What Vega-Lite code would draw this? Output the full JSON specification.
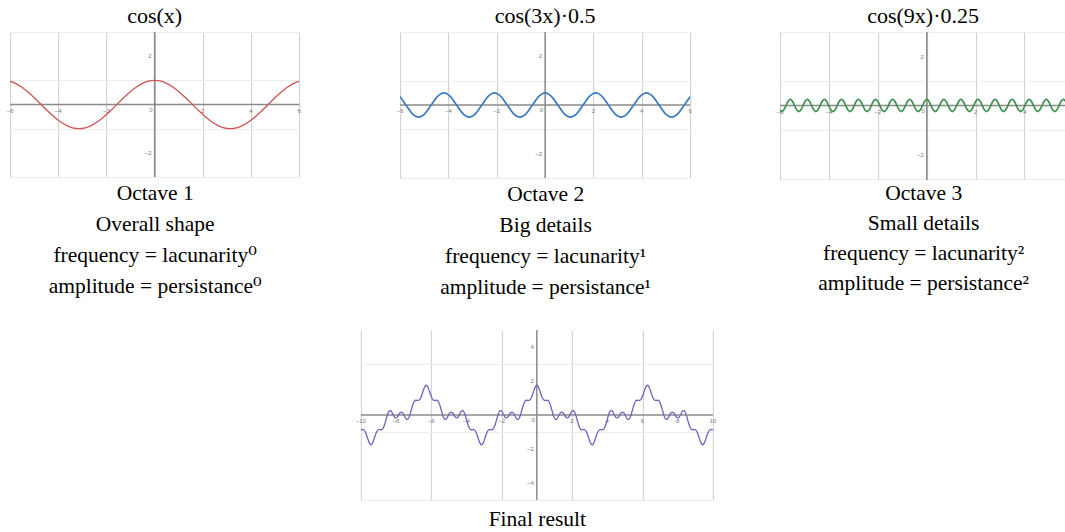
{
"$schema":"https://vega.github.io/schema/vega-lite/v6.json",
"padding":{"left":6,"top":5,"right":0,"bottom":0},
"background":"white",
"config":{
 "view":{"stroke":null},
 "font":"Liberation Serif",
 "title":{"font":"Liberation Serif, DejaVu Serif","fontSize":22,"fontWeight":"normal","color":"#000","offset":3,"anchor":"middle"},
 "axis":{"labels":false,"ticks":false,"domain":false,"grid":true,"gridWidth":1,"titleFont":"Liberation Serif, DejaVu Serif","titleFontSize":21.5,"titleFontWeight":"normal","titleColor":"#000","titleLineHeight":31.3,"titlePadding":5},
 "text":{"color":"#777777","font":"Liberation Sans","fontSize":6},
 "style":{
  "xl":{"dy":6},
  "yl":{"dx":-3,"align":"right","baseline":"middle"},
  "ol":{"dx":-2,"dy":2,"align":"right","baseline":"top"}
 }
},
"datasets":{
 "a":[
{"x":-6.283,"c1":1,"c3":0.5},{"x":-6.021,"c1":0.966,"c3":0.354},{"x":-5.76,"c1":0.866,"c3":0},{"x":-5.498,"c1":0.707,"c3":-0.354},{"x":-5.236,"c1":0.5,"c3":-0.5},{"x":-4.974,"c1":0.259,"c3":-0.354},{"x":-4.712,"c1":0,"c3":0},{"x":-4.451,"c1":-0.259,"c3":0.354},{"x":-4.189,"c1":-0.5,"c3":0.5},{"x":-3.927,"c1":-0.707,"c3":0.354},{"x":-3.665,"c1":-0.866,"c3":0},{"x":-3.403,"c1":-0.966,"c3":-0.354},{"x":-3.142,"c1":-1,"c3":-0.5},{"x":-2.88,"c1":-0.966,"c3":-0.354},{"x":-2.618,"c1":-0.866,"c3":0},{"x":-2.356,"c1":-0.707,"c3":0.354},{"x":-2.094,"c1":-0.5,"c3":0.5},{"x":-1.833,"c1":-0.259,"c3":0.354},{"x":-1.571,"c1":0,"c3":0},{"x":-1.309,"c1":0.259,"c3":-0.354},{"x":-1.047,"c1":0.5,"c3":-0.5},{"x":-0.785,"c1":0.707,"c3":-0.354},{"x":-0.524,"c1":0.866,"c3":0},{"x":-0.262,"c1":0.966,"c3":0.354},
{"x":0,"c1":1,"c3":0.5},
{"x":0.262,"c1":0.966,"c3":0.354},{"x":0.524,"c1":0.866,"c3":0},{"x":0.785,"c1":0.707,"c3":-0.354},{"x":1.047,"c1":0.5,"c3":-0.5},{"x":1.309,"c1":0.259,"c3":-0.354},{"x":1.571,"c1":0,"c3":0},{"x":1.833,"c1":-0.259,"c3":0.354},{"x":2.094,"c1":-0.5,"c3":0.5},{"x":2.356,"c1":-0.707,"c3":0.354},{"x":2.618,"c1":-0.866,"c3":0},{"x":2.88,"c1":-0.966,"c3":-0.354},{"x":3.142,"c1":-1,"c3":-0.5},{"x":3.403,"c1":-0.966,"c3":-0.354},{"x":3.665,"c1":-0.866,"c3":0},{"x":3.927,"c1":-0.707,"c3":0.354},{"x":4.189,"c1":-0.5,"c3":0.5},{"x":4.451,"c1":-0.259,"c3":0.354},{"x":4.712,"c1":0,"c3":0},{"x":4.974,"c1":0.259,"c3":-0.354},{"x":5.236,"c1":0.5,"c3":-0.5},{"x":5.498,"c1":0.707,"c3":-0.354},{"x":5.76,"c1":0.866,"c3":0},{"x":6.021,"c1":0.966,"c3":0.354},{"x":6.283,"c1":1,"c3":0.5}
 ],
 "b":[
{"x":0,"c9":0.25,"f":1.75},{"x":0.087,"c9":0.177,"f":1.656},{"x":0.175,"c9":0,"f":1.418},{"x":0.262,"c9":-0.177,"f":1.143},{"x":0.349,"c9":-0.25,"f":0.94},{"x":0.436,"c9":-0.177,"f":0.859},{"x":0.524,"c9":0,"f":0.866},{"x":0.611,"c9":0.177,"f":0.867},{"x":0.698,"c9":0.25,"f":0.766},{"x":0.785,"c9":0.177,"f":0.53},
{"x":0.873,"c9":0,"f":0.21},{"x":0.96,"c9":-0.177,"f":-0.086},{"x":1.047,"c9":-0.25,"f":-0.25},{"x":1.134,"c9":-0.177,"f":-0.237},{"x":1.222,"c9":0,"f":-0.091},{"x":1.309,"c9":0.177,"f":0.082},{"x":1.396,"c9":0.25,"f":0.174},{"x":1.484,"c9":0.177,"f":0.135},{"x":1.571,"c9":0,"f":0},{"x":1.658,"c9":-0.177,"f":-0.135},
{"x":1.745,"c9":-0.25,"f":-0.174},{"x":1.833,"c9":-0.177,"f":-0.082},{"x":1.92,"c9":0,"f":0.091},{"x":2.007,"c9":0.177,"f":0.237},{"x":2.094,"c9":0.25,"f":0.25},{"x":2.182,"c9":0.177,"f":0.086},{"x":2.269,"c9":0,"f":-0.21},{"x":2.356,"c9":-0.177,"f":-0.53},{"x":2.443,"c9":-0.25,"f":-0.766},{"x":2.531,"c9":-0.177,"f":-0.867},
{"x":2.618,"c9":0,"f":-0.866},{"x":2.705,"c9":0.177,"f":-0.859},{"x":2.793,"c9":0.25,"f":-0.94},{"x":2.88,"c9":0.177,"f":-1.143},{"x":2.967,"c9":0,"f":-1.418},{"x":3.054,"c9":-0.177,"f":-1.656},{"x":3.142,"c9":-0.25,"f":-1.75},{"x":3.229,"c9":-0.177,"f":-1.656},{"x":3.316,"c9":0,"f":-1.418},{"x":3.403,"c9":0.177,"f":-1.143},
{"x":3.491,"c9":0.25,"f":-0.94},{"x":3.578,"c9":0.177,"f":-0.859},{"x":3.665,"c9":0,"f":-0.866},{"x":3.752,"c9":-0.177,"f":-0.867},{"x":3.84,"c9":-0.25,"f":-0.766},{"x":3.927,"c9":-0.177,"f":-0.53},{"x":4.014,"c9":0,"f":-0.21},{"x":4.102,"c9":0.177,"f":0.086},{"x":4.189,"c9":0.25,"f":0.25},{"x":4.276,"c9":0.177,"f":0.237},
{"x":4.363,"c9":0,"f":0.091},{"x":4.451,"c9":-0.177,"f":-0.082},{"x":4.538,"c9":-0.25,"f":-0.174},{"x":4.625,"c9":-0.177,"f":-0.135},{"x":4.712,"c9":0,"f":0},{"x":4.8,"c9":0.177,"f":0.135},{"x":4.887,"c9":0.25,"f":0.174},{"x":4.974,"c9":0.177,"f":0.082},{"x":5.061,"c9":0,"f":-0.091},{"x":5.149,"c9":-0.177,"f":-0.237},
{"x":5.236,"c9":-0.25,"f":-0.25},{"x":5.323,"c9":-0.177,"f":-0.086},{"x":5.411,"c9":0,"f":0.21},{"x":5.498,"c9":0.177,"f":0.53},{"x":5.585,"c9":0.25,"f":0.766},{"x":5.672,"c9":0.177,"f":0.867},{"x":5.76,"c9":0,"f":0.866},{"x":5.847,"c9":-0.177,"f":0.859},{"x":5.934,"c9":-0.25,"f":0.94},{"x":6.021,"c9":-0.177,"f":1.143},
{"x":6.109,"c9":0,"f":1.418},{"x":6.196,"c9":0.177,"f":1.656},{"x":6.283,"c9":0.25,"f":1.75},{"x":6.37,"c9":0.177,"f":1.656},{"x":6.458,"c9":0,"f":1.418},{"x":6.545,"c9":-0.177,"f":1.143},{"x":6.632,"c9":-0.25,"f":0.94},{"x":6.72,"c9":-0.177,"f":0.859},{"x":6.807,"c9":0,"f":0.866},{"x":6.894,"c9":0.177,"f":0.867},
{"x":6.981,"c9":0.25,"f":0.766},{"x":7.069,"c9":0.177,"f":0.53},{"x":7.156,"c9":0,"f":0.21},{"x":7.243,"c9":-0.177,"f":-0.086},{"x":7.33,"c9":-0.25,"f":-0.25},{"x":7.418,"c9":-0.177,"f":-0.237},{"x":7.505,"c9":0,"f":-0.091},{"x":7.592,"c9":0.177,"f":0.082},{"x":7.679,"c9":0.25,"f":0.174},{"x":7.767,"c9":0.177,"f":0.135},
{"x":7.854,"c9":0,"f":0},{"x":7.941,"c9":-0.177,"f":-0.135},{"x":8.029,"c9":-0.25,"f":-0.174},{"x":8.116,"c9":-0.177,"f":-0.082},{"x":8.203,"c9":0,"f":0.091},{"x":8.29,"c9":0.177,"f":0.237},{"x":8.378,"c9":0.25,"f":0.25},{"x":8.465,"c9":0.177,"f":0.086},{"x":8.552,"c9":0,"f":-0.21},{"x":8.639,"c9":-0.177,"f":-0.53},
{"x":8.727,"c9":-0.25,"f":-0.766},{"x":8.814,"c9":-0.177,"f":-0.867},{"x":8.901,"c9":0,"f":-0.866},{"x":8.988,"c9":0.177,"f":-0.859},{"x":9.076,"c9":0.25,"f":-0.94},{"x":9.163,"c9":0.177,"f":-1.143},{"x":9.25,"c9":0,"f":-1.418},{"x":9.338,"c9":-0.177,"f":-1.656},{"x":9.425,"c9":-0.25,"f":-1.75},{"x":9.512,"c9":-0.177,"f":-1.656},
{"x":9.599,"c9":0,"f":-1.418},{"x":9.687,"c9":0.177,"f":-1.143},{"x":9.774,"c9":0.25,"f":-0.94},{"x":9.861,"c9":0.177,"f":-0.859},{"x":9.948,"c9":0,"f":-0.866},{"x":10.036,"c9":-0.177,"f":-0.867},
{"x":-0.087,"c9":0.177,"f":1.656},{"x":-0.175,"c9":0,"f":1.418},{"x":-0.262,"c9":-0.177,"f":1.143},{"x":-0.349,"c9":-0.25,"f":0.94},{"x":-0.436,"c9":-0.177,"f":0.859},{"x":-0.524,"c9":0,"f":0.866},{"x":-0.611,"c9":0.177,"f":0.867},{"x":-0.698,"c9":0.25,"f":0.766},{"x":-0.785,"c9":0.177,"f":0.53},
{"x":-0.873,"c9":0,"f":0.21},{"x":-0.96,"c9":-0.177,"f":-0.086},{"x":-1.047,"c9":-0.25,"f":-0.25},{"x":-1.134,"c9":-0.177,"f":-0.237},{"x":-1.222,"c9":0,"f":-0.091},{"x":-1.309,"c9":0.177,"f":0.082},{"x":-1.396,"c9":0.25,"f":0.174},{"x":-1.484,"c9":0.177,"f":0.135},{"x":-1.571,"c9":0,"f":0},{"x":-1.658,"c9":-0.177,"f":-0.135},
{"x":-1.745,"c9":-0.25,"f":-0.174},{"x":-1.833,"c9":-0.177,"f":-0.082},{"x":-1.92,"c9":0,"f":0.091},{"x":-2.007,"c9":0.177,"f":0.237},{"x":-2.094,"c9":0.25,"f":0.25},{"x":-2.182,"c9":0.177,"f":0.086},{"x":-2.269,"c9":0,"f":-0.21},{"x":-2.356,"c9":-0.177,"f":-0.53},{"x":-2.443,"c9":-0.25,"f":-0.766},{"x":-2.531,"c9":-0.177,"f":-0.867},
{"x":-2.618,"c9":0,"f":-0.866},{"x":-2.705,"c9":0.177,"f":-0.859},{"x":-2.793,"c9":0.25,"f":-0.94},{"x":-2.88,"c9":0.177,"f":-1.143},{"x":-2.967,"c9":0,"f":-1.418},{"x":-3.054,"c9":-0.177,"f":-1.656},{"x":-3.142,"c9":-0.25,"f":-1.75},{"x":-3.229,"c9":-0.177,"f":-1.656},{"x":-3.316,"c9":0,"f":-1.418},{"x":-3.403,"c9":0.177,"f":-1.143},
{"x":-3.491,"c9":0.25,"f":-0.94},{"x":-3.578,"c9":0.177,"f":-0.859},{"x":-3.665,"c9":0,"f":-0.866},{"x":-3.752,"c9":-0.177,"f":-0.867},{"x":-3.84,"c9":-0.25,"f":-0.766},{"x":-3.927,"c9":-0.177,"f":-0.53},{"x":-4.014,"c9":0,"f":-0.21},{"x":-4.102,"c9":0.177,"f":0.086},{"x":-4.189,"c9":0.25,"f":0.25},{"x":-4.276,"c9":0.177,"f":0.237},
{"x":-4.363,"c9":0,"f":0.091},{"x":-4.451,"c9":-0.177,"f":-0.082},{"x":-4.538,"c9":-0.25,"f":-0.174},{"x":-4.625,"c9":-0.177,"f":-0.135},{"x":-4.712,"c9":0,"f":0},{"x":-4.8,"c9":0.177,"f":0.135},{"x":-4.887,"c9":0.25,"f":0.174},{"x":-4.974,"c9":0.177,"f":0.082},{"x":-5.061,"c9":0,"f":-0.091},{"x":-5.149,"c9":-0.177,"f":-0.237},
{"x":-5.236,"c9":-0.25,"f":-0.25},{"x":-5.323,"c9":-0.177,"f":-0.086},{"x":-5.411,"c9":0,"f":0.21},{"x":-5.498,"c9":0.177,"f":0.53},{"x":-5.585,"c9":0.25,"f":0.766},{"x":-5.672,"c9":0.177,"f":0.867},{"x":-5.76,"c9":0,"f":0.866},{"x":-5.847,"c9":-0.177,"f":0.859},{"x":-5.934,"c9":-0.25,"f":0.94},{"x":-6.021,"c9":-0.177,"f":1.143},
{"x":-6.109,"c9":0,"f":1.418},{"x":-6.196,"c9":0.177,"f":1.656},{"x":-6.283,"c9":0.25,"f":1.75},{"x":-6.37,"c9":0.177,"f":1.656},{"x":-6.458,"c9":0,"f":1.418},{"x":-6.545,"c9":-0.177,"f":1.143},{"x":-6.632,"c9":-0.25,"f":0.94},{"x":-6.72,"c9":-0.177,"f":0.859},{"x":-6.807,"c9":0,"f":0.866},{"x":-6.894,"c9":0.177,"f":0.867},
{"x":-6.981,"c9":0.25,"f":0.766},{"x":-7.069,"c9":0.177,"f":0.53},{"x":-7.156,"c9":0,"f":0.21},{"x":-7.243,"c9":-0.177,"f":-0.086},{"x":-7.33,"c9":-0.25,"f":-0.25},{"x":-7.418,"c9":-0.177,"f":-0.237},{"x":-7.505,"c9":0,"f":-0.091},{"x":-7.592,"c9":0.177,"f":0.082},{"x":-7.679,"c9":0.25,"f":0.174},{"x":-7.767,"c9":0.177,"f":0.135},
{"x":-7.854,"c9":0,"f":0},{"x":-7.941,"c9":-0.177,"f":-0.135},{"x":-8.029,"c9":-0.25,"f":-0.174},{"x":-8.116,"c9":-0.177,"f":-0.082},{"x":-8.203,"c9":0,"f":0.091},{"x":-8.29,"c9":0.177,"f":0.237},{"x":-8.378,"c9":0.25,"f":0.25},{"x":-8.465,"c9":0.177,"f":0.086},{"x":-8.552,"c9":0,"f":-0.21},{"x":-8.639,"c9":-0.177,"f":-0.53},
{"x":-8.727,"c9":-0.25,"f":-0.766},{"x":-8.814,"c9":-0.177,"f":-0.867},{"x":-8.901,"c9":0,"f":-0.866},{"x":-8.988,"c9":0.177,"f":-0.859},{"x":-9.076,"c9":0.25,"f":-0.94},{"x":-9.163,"c9":0.177,"f":-1.143},{"x":-9.25,"c9":0,"f":-1.418},{"x":-9.338,"c9":-0.177,"f":-1.656},{"x":-9.425,"c9":-0.25,"f":-1.75},{"x":-9.512,"c9":-0.177,"f":-1.656},
{"x":-9.599,"c9":0,"f":-1.418},{"x":-9.687,"c9":0.177,"f":-1.143},{"x":-9.774,"c9":0.25,"f":-0.94},{"x":-9.861,"c9":0.177,"f":-0.859},{"x":-9.948,"c9":0,"f":-0.866},{"x":-10.036,"c9":-0.177,"f":-0.867}
 ],
 "tx6":[{"x":-6},{"x":-4},{"x":-2},{"x":2},{"x":4},{"x":6}],
 "tx3":[{"x":-6},{"x":-4},{"x":-2},{"x":2},{"x":4}],
 "ty3":[{"y":-2},{"y":2}],
 "tx10":[{"x":-10},{"x":-8},{"x":-6},{"x":-4},{"x":-2},{"x":2},{"x":4},{"x":6},{"x":8},{"x":10}],
 "ty5":[{"y":-4},{"y":-2},{"y":2},{"y":4}],
 "one":[{"v":0}]
},
"vconcat":[
 {"hconcat":[
  {"title":"cos(x)","width":289,"height":145,
   "layer":[
    {"data":{"name":"one"},"mark":{"type":"rule","color":"#8a8a8a","strokeWidth":1.5},"encoding":{"y":{"field":"v","type":"quantitative"}}},
    {"data":{"name":"one"},"mark":{"type":"rule","color":"#8a8a8a","strokeWidth":1.5},"encoding":{"x":{"field":"v","type":"quantitative"}}},
    {"data":{"name":"tx6"},"mark":{"type":"text","style":"xl"},"encoding":{"x":{"field":"x","type":"quantitative"},"y":{"datum":0,"type":"quantitative"},"text":{"field":"x","type":"quantitative"}}},
    {"data":{"name":"ty3"},"mark":{"type":"text","style":"yl"},"encoding":{"x":{"datum":0,"type":"quantitative"},"y":{"field":"y","type":"quantitative"},"text":{"field":"y","type":"quantitative"}}},
    {"data":{"name":"one"},"mark":{"type":"text","style":"ol"},"encoding":{"x":{"field":"v","type":"quantitative"},"y":{"field":"v","type":"quantitative"},"text":{"field":"v","type":"quantitative"}}},
    {"data":{"name":"a"},"mark":{"type":"line","color":"#cc5555","strokeWidth":1.3,"clip":true,"interpolate":"monotone"},
     "encoding":{
      "x":{"field":"x","type":"quantitative","scale":{"domain":[-6,6],"nice":false,"zero":false},
       "axis":{"values":[-6,-5.5,-5,-4.5,-4,-3.5,-3,-2.5,-2,-1.5,-1,-0.5,0,0.5,1,1.5,2,2.5,3,3.5,4,4.5,5,5.5,6],
        "gridColor":{"condition":{"test":"datum.value % 2 === 0","value":"#cccccc"},"value":"#ececec"},
        "title":["Octave 1","Overall shape","frequency = lacunarity⁰","amplitude = persistance⁰"]}},
      "y":{"field":"c1","type":"quantitative","scale":{"domain":[-3,3],"nice":false,"zero":false},
       "axis":{"values":[-3,-2.5,-2,-1.5,-1,-0.5,0,0.5,1,1.5,2,2.5,3],
        "gridColor":{"condition":{"test":"datum.value % 2 === 0","value":"#cccccc"},"value":"#ececec"},"title":null}}}}
   ]},
  {"hconcat":[
   {"title":"cos(3x)·0.5","width":290,"height":146,
    "layer":[
     {"data":{"name":"one"},"mark":{"type":"rule","color":"#8a8a8a","strokeWidth":1.5},"encoding":{"y":{"field":"v","type":"quantitative"}}},
     {"data":{"name":"one"},"mark":{"type":"rule","color":"#8a8a8a","strokeWidth":1.5},"encoding":{"x":{"field":"v","type":"quantitative"}}},
     {"data":{"name":"tx6"},"mark":{"type":"text","style":"xl"},"encoding":{"x":{"field":"x","type":"quantitative"},"y":{"datum":0,"type":"quantitative"},"text":{"field":"x","type":"quantitative"}}},
     {"data":{"name":"ty3"},"mark":{"type":"text","style":"yl"},"encoding":{"x":{"datum":0,"type":"quantitative"},"y":{"field":"y","type":"quantitative"},"text":{"field":"y","type":"quantitative"}}},
     {"data":{"name":"one"},"mark":{"type":"text","style":"ol"},"encoding":{"x":{"field":"v","type":"quantitative"},"y":{"field":"v","type":"quantitative"},"text":{"field":"v","type":"quantitative"}}},
     {"data":{"name":"a"},"mark":{"type":"line","color":"#3a7bbf","strokeWidth":1.7,"clip":true,"interpolate":"monotone"},
      "encoding":{
       "x":{"field":"x","type":"quantitative","scale":{"domain":[-6,6],"nice":false,"zero":false},
        "axis":{"values":[-6,-5.5,-5,-4.5,-4,-3.5,-3,-2.5,-2,-1.5,-1,-0.5,0,0.5,1,1.5,2,2.5,3,3.5,4,4.5,5,5.5,6],
         "gridColor":{"condition":{"test":"datum.value % 2 === 0","value":"#cccccc"},"value":"#ececec"},
         "title":["Octave 2","Big details","frequency = lacunarity¹","amplitude = persistance¹"]}},
       "y":{"field":"c3","type":"quantitative","scale":{"domain":[-3,3],"nice":false,"zero":false},
        "axis":{"values":[-3,-2.5,-2,-1.5,-1,-0.5,0,0.5,1,1.5,2,2.5,3],
         "gridColor":{"condition":{"test":"datum.value % 2 === 0","value":"#cccccc"},"value":"#ececec"},"title":null}}}}
    ]},
   {"title":"cos(9x)·0.25","width":286,"height":148,
    "layer":[
     {"data":{"name":"one"},"mark":{"type":"rule","color":"#8a8a8a","strokeWidth":1.5},"encoding":{"y":{"field":"v","type":"quantitative"}}},
     {"data":{"name":"one"},"mark":{"type":"rule","color":"#8a8a8a","strokeWidth":1.5},"encoding":{"x":{"field":"v","type":"quantitative"}}},
     {"data":{"name":"tx3"},"mark":{"type":"text","style":"xl"},"encoding":{"x":{"field":"x","type":"quantitative"},"y":{"datum":0,"type":"quantitative"},"text":{"field":"x","type":"quantitative"}}},
     {"data":{"name":"ty3"},"mark":{"type":"text","style":"yl"},"encoding":{"x":{"datum":0,"type":"quantitative"},"y":{"field":"y","type":"quantitative"},"text":{"field":"y","type":"quantitative"}}},
     {"data":{"name":"one"},"mark":{"type":"text","style":"ol"},"encoding":{"x":{"field":"v","type":"quantitative"},"y":{"field":"v","type":"quantitative"},"text":{"field":"v","type":"quantitative"}}},
     {"data":{"name":"b"},"mark":{"type":"line","color":"#3d9150","strokeWidth":1.7,"clip":true,"interpolate":"monotone"},
      "encoding":{
       "x":{"field":"x","type":"quantitative","scale":{"domain":[-6,5.7],"nice":false,"zero":false},
        "axis":{"values":[-6,-5.5,-5,-4.5,-4,-3.5,-3,-2.5,-2,-1.5,-1,-0.5,0,0.5,1,1.5,2,2.5,3,3.5,4,4.5,5,5.5],
         "gridColor":{"condition":{"test":"datum.value % 2 === 0","value":"#cccccc"},"value":"#ececec"},
         "titlePadding":2.5,"titleLineHeight":30,
         "title":["Octave 3","Small details","frequency = lacunarity²","amplitude = persistance²"]}},
       "y":{"field":"c9","type":"quantitative","scale":{"domain":[-3.04,3],"nice":false,"zero":false},
        "axis":{"values":[-3,-2.5,-2,-1.5,-1,-0.5,0,0.5,1,1.5,2,2.5,3],
         "gridColor":{"condition":{"test":"datum.value % 2 === 0","value":"#cccccc"},"value":"#ececec"},"title":null}}}}
    ]}
  ],"spacing":90,"bounds":"flush"}
 ],"spacing":101,"bounds":"flush"},
 {"width":352,"height":170,
  "layer":[
   {"data":{"name":"one"},"mark":{"type":"rule","color":"#8a8a8a","strokeWidth":1.5},"encoding":{"y":{"field":"v","type":"quantitative"}}},
   {"data":{"name":"one"},"mark":{"type":"rule","color":"#8a8a8a","strokeWidth":1.5},"encoding":{"x":{"field":"v","type":"quantitative"}}},
   {"data":{"name":"tx10"},"mark":{"type":"text","style":"xl"},"encoding":{"x":{"field":"x","type":"quantitative"},"y":{"datum":0,"type":"quantitative"},"text":{"field":"x","type":"quantitative"}}},
   {"data":{"name":"ty5"},"mark":{"type":"text","style":"yl"},"encoding":{"x":{"datum":0,"type":"quantitative"},"y":{"field":"y","type":"quantitative"},"text":{"field":"y","type":"quantitative"}}},
   {"data":{"name":"one"},"mark":{"type":"text","style":"ol"},"encoding":{"x":{"field":"v","type":"quantitative"},"y":{"field":"v","type":"quantitative"},"text":{"field":"v","type":"quantitative"}}},
   {"data":{"name":"b"},"mark":{"type":"line","color":"#7160c0","strokeWidth":1.3,"clip":true,"interpolate":"monotone"},
    "encoding":{
     "x":{"field":"x","type":"quantitative","scale":{"domain":[-10,10],"nice":false,"zero":false},
      "axis":{"values":[-10,-9.5,-9,-8.5,-8,-7.5,-7,-6.5,-6,-5.5,-5,-4.5,-4,-3.5,-3,-2.5,-2,-1.5,-1,-0.5,0,0.5,1,1.5,2,2.5,3,3.5,4,4.5,5,5.5,6,6.5,7,7.5,8,8.5,9,9.5,10],
       "gridColor":{"condition":{"test":"datum.value % 2 === 0","value":"#cccccc"},"value":"#ececec"},
       "titlePadding":8,
       "title":"Final result"}},
     "y":{"field":"f","type":"quantitative","scale":{"domain":[-5,5],"nice":false,"zero":false},
      "axis":{"values":[-5,-4.5,-4,-3.5,-3,-2.5,-2,-1.5,-1,-0.5,0,0.5,1,1.5,2,2.5,3,3.5,4,4.5,5],
       "gridColor":{"condition":{"test":"datum.value % 2 === 0","value":"#cccccc"},"value":"#ececec"},
       "title":null}}}}
  ]}
],
"spacing":30,
"center":true
}
